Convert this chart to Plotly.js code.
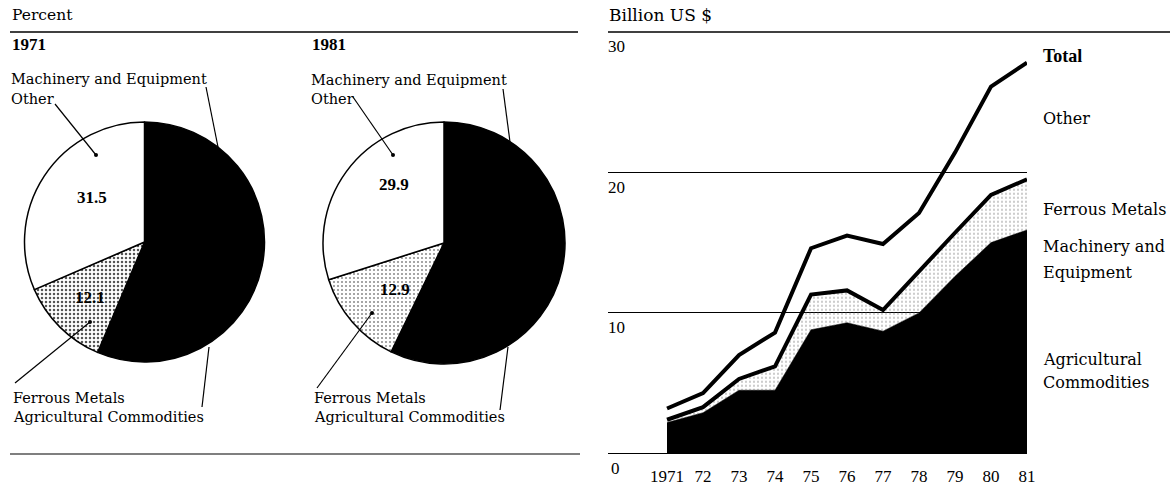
<!DOCTYPE html>
<html><head><meta charset="utf-8">
<script src="https://cdn.plot.ly/plotly-3.0.1.min.js"></script>
<style>html,body{margin:0;padding:0;background:#fff;}#chart{width:1172px;height:492px;}</style>
</head><body><div id="chart"></div>
<script>
// ---------- DATA ----------
const pieYears = ['1971', '1981'];
const pieSliceNames = ['Agricultural Commodities and Machinery and Equipment', 'Ferrous Metals', 'Other'];
const pie1971 = [56.4, 12.1, 31.5];
const pie1981 = [57.2, 12.9, 29.9];

const years = [1971, 1972, 1973, 1974, 1975, 1976, 1977, 1978, 1979, 1980, 1981];
const yearTickText = ['1971', '72', '73', '74', '75', '76', '77', '78', '79', '80', '81'];
// cumulative levels, billion US $
const agriMachineryTop = [2.2, 2.9, 4.5, 4.5, 8.8, 9.3, 8.7, 10.0, 12.6, 15.0, 15.9];
const ferrousTop       = [2.4, 3.3, 5.3, 6.2, 11.3, 11.6, 10.2, 13.0, 15.7, 18.4, 19.5];
const totalValues      = [3.2, 4.3, 7.0, 8.6, 14.6, 15.5, 14.9, 17.1, 21.4, 26.1, 27.8];
const yTickValues = [0, 10, 20, 30];

// ---------- HELPERS ----------
const W = 1172, H = 492;
const px = x => x / W;
const py = y => 1 - y / H;
const WORD = 'DejaVu Serif, serif';
const NUM = 'Liberation Serif, Times New Roman, serif';

function pieTrace(values, cx, cy, r, fg, sol) {
  return {
    type: 'pie', values: values, labels: pieSliceNames, sort: false,
    direction: 'clockwise', rotation: 0, textinfo: 'none', hoverinfo: 'skip',
    showlegend: false,
    domain: {x: [px(cx - r), px(cx + r)], y: [py(cy + r), py(cy - r)]},
    marker: {
      colors: ['#000000', '#ffffff', '#ffffff'],
      line: {color: '#000', width: 1.5},
      pattern: {shape: ['', '.', ''], fgcolor: fg, bgcolor: '#ffffff', size: 4, solidity: sol}
    }
  };
}

const traces = [
  pieTrace(pie1971, 144.5, 242, 120, '#555', 0.3),
  pieTrace(pie1981, 444, 243, 121, '#888', 0.2),
  {type: 'scatter', mode: 'lines', x: years, y: agriMachineryTop, fill: 'tozeroy',
   fillcolor: '#000', line: {color: '#000', width: 0.5}, hoverinfo: 'skip', showlegend: false},
  {type: 'scatter', mode: 'lines', x: years, y: ferrousTop, fill: 'tonexty',
   fillcolor: 'rgba(255,255,255,0)',
   fillpattern: {shape: '.', fgcolor: '#999', bgcolor: 'rgba(0,0,0,0)', size: 4, solidity: 0.15},
   line: {color: '#000', width: 4}, hoverinfo: 'skip', showlegend: false},
  {type: 'scatter', mode: 'lines', x: years, y: totalValues,
   line: {color: '#000', width: 4}, hoverinfo: 'skip', showlegend: false}
];

function txt(text, x, y, size, family, opts) {
  return Object.assign({text: text, xref: 'paper', yref: 'paper', x: px(x), y: py(y),
    xanchor: 'left', yanchor: 'middle', showarrow: false,
    font: {family: family, size: size, color: '#000'}}, opts || {});
}

const annotations = [
  txt('Percent', 10, 15, 15.5, WORD),
  txt('Billion US $', 607, 15, 17, WORD),
  txt('<b>' + pieYears[0] + '</b>', 10, 44, 17, NUM),
  txt('<b>' + pieYears[1] + '</b>', 310, 44, 17, NUM),
  txt('Machinery and Equipment', 9, 79, 14.5, WORD),
  txt('Other', 9, 99, 14.5, WORD),
  txt('Machinery and Equipment', 309, 80, 14.5, WORD),
  txt('Other', 309, 99, 14.5, WORD),
  txt('Ferrous Metals', 11, 398, 14.5, WORD),
  txt('Agricultural Commodities', 11, 417, 14.5, WORD),
  txt('Ferrous Metals', 312, 398, 14.5, WORD),
  txt('Agricultural Commodities', 312, 417, 14.5, WORD),
  txt('<b>' + pie1971[2].toFixed(1) + '</b>', 92, 197, 17, NUM, {xanchor: 'center'}),
  txt('<b>' + pie1971[1].toFixed(1) + '</b>', 90, 297, 17, NUM, {xanchor: 'center'}),
  txt('<b>' + pie1981[2].toFixed(1) + '</b>', 394, 185, 17, NUM, {xanchor: 'center'}),
  txt('<b>' + pie1981[1].toFixed(1) + '</b>', 395, 289, 17, NUM, {xanchor: 'center'}),
  txt('<b>Total</b>', 1041, 56, 18, NUM),
  txt('Other', 1041, 118, 16, WORD),
  txt('Ferrous Metals', 1041, 209, 16, WORD),
  txt('Machinery and', 1041, 246, 16, WORD),
  txt('Equipment', 1041, 272, 16, WORD),
  txt('Agricultural', 1041, 359, 16, WORD),
  txt('Commodities', 1041, 382, 16, WORD)
];
yTickValues.forEach(v => {
  annotations.push({text: String(v), xref: 'paper', yref: 'y', x: px(v === 0 ? 609 : 606), y: v,
    xanchor: 'left', yanchor: 'middle', yshift: -15, showarrow: false,
    font: {family: NUM, size: 17, color: '#000'}});
});

function seg(x0, y0, x1, y1, w) {
  return {type: 'line', xref: 'paper', yref: 'paper', x0: px(x0), y0: py(y0), x1: px(x1), y1: py(y1),
    line: {color: '#000', width: w || 1.2}};
}
function dot(x, y) {
  return {type: 'circle', xref: 'paper', yref: 'paper', x0: px(x - 2), x1: px(x + 2),
    y0: py(y + 2), y1: py(y - 2), fillcolor: '#000', line: {width: 0}};
}
const shapes = [
  seg(10, 32, 578, 32, 1.5),
  seg(608, 32, 1170, 32, 1.5),
  seg(10, 454, 580, 454, 1.2),
  // 1971 leaders
  seg(55, 104, 96, 155), dot(96, 155),
  seg(206, 87, 218, 147),
  seg(15, 383, 90, 322), dot(90, 322),
  seg(202, 407, 209, 347),
  // 1981 leaders
  seg(353, 97, 393, 155), dot(393, 155),
  seg(503, 89, 510, 142),
  seg(317, 388, 372, 313), dot(372, 313),
  seg(500, 410, 508, 347)
];

const layout = {
  width: W, height: H, margin: {l: 0, r: 0, t: 0, b: 0},
  paper_bgcolor: '#fff', plot_bgcolor: 'rgba(0,0,0,0)',
  showlegend: false,
  xaxis: {domain: [px(608), px(1027)], range: [1969.36, 1981], anchor: 'y',
    tickvals: years, ticktext: yearTickText, ticks: '', showgrid: false, zeroline: false,
    showline: false, ticklabelstandoff: 10,
    tickfont: {family: NUM, size: 17, color: '#000'}},
  yaxis: {domain: [py(453.5), py(31.7)], range: [0, 30], anchor: 'x',
    tickvals: [10, 20], showticklabels: false, ticks: '', showgrid: true,
    gridcolor: '#000', gridwidth: 1, zeroline: true, zerolinecolor: '#000', zerolinewidth: 1,
    showline: false},
  annotations: annotations,
  shapes: shapes
};

Plotly.newPlot('chart', traces, layout, {staticPlot: true, displayModeBar: false});
</script>
</body></html>
